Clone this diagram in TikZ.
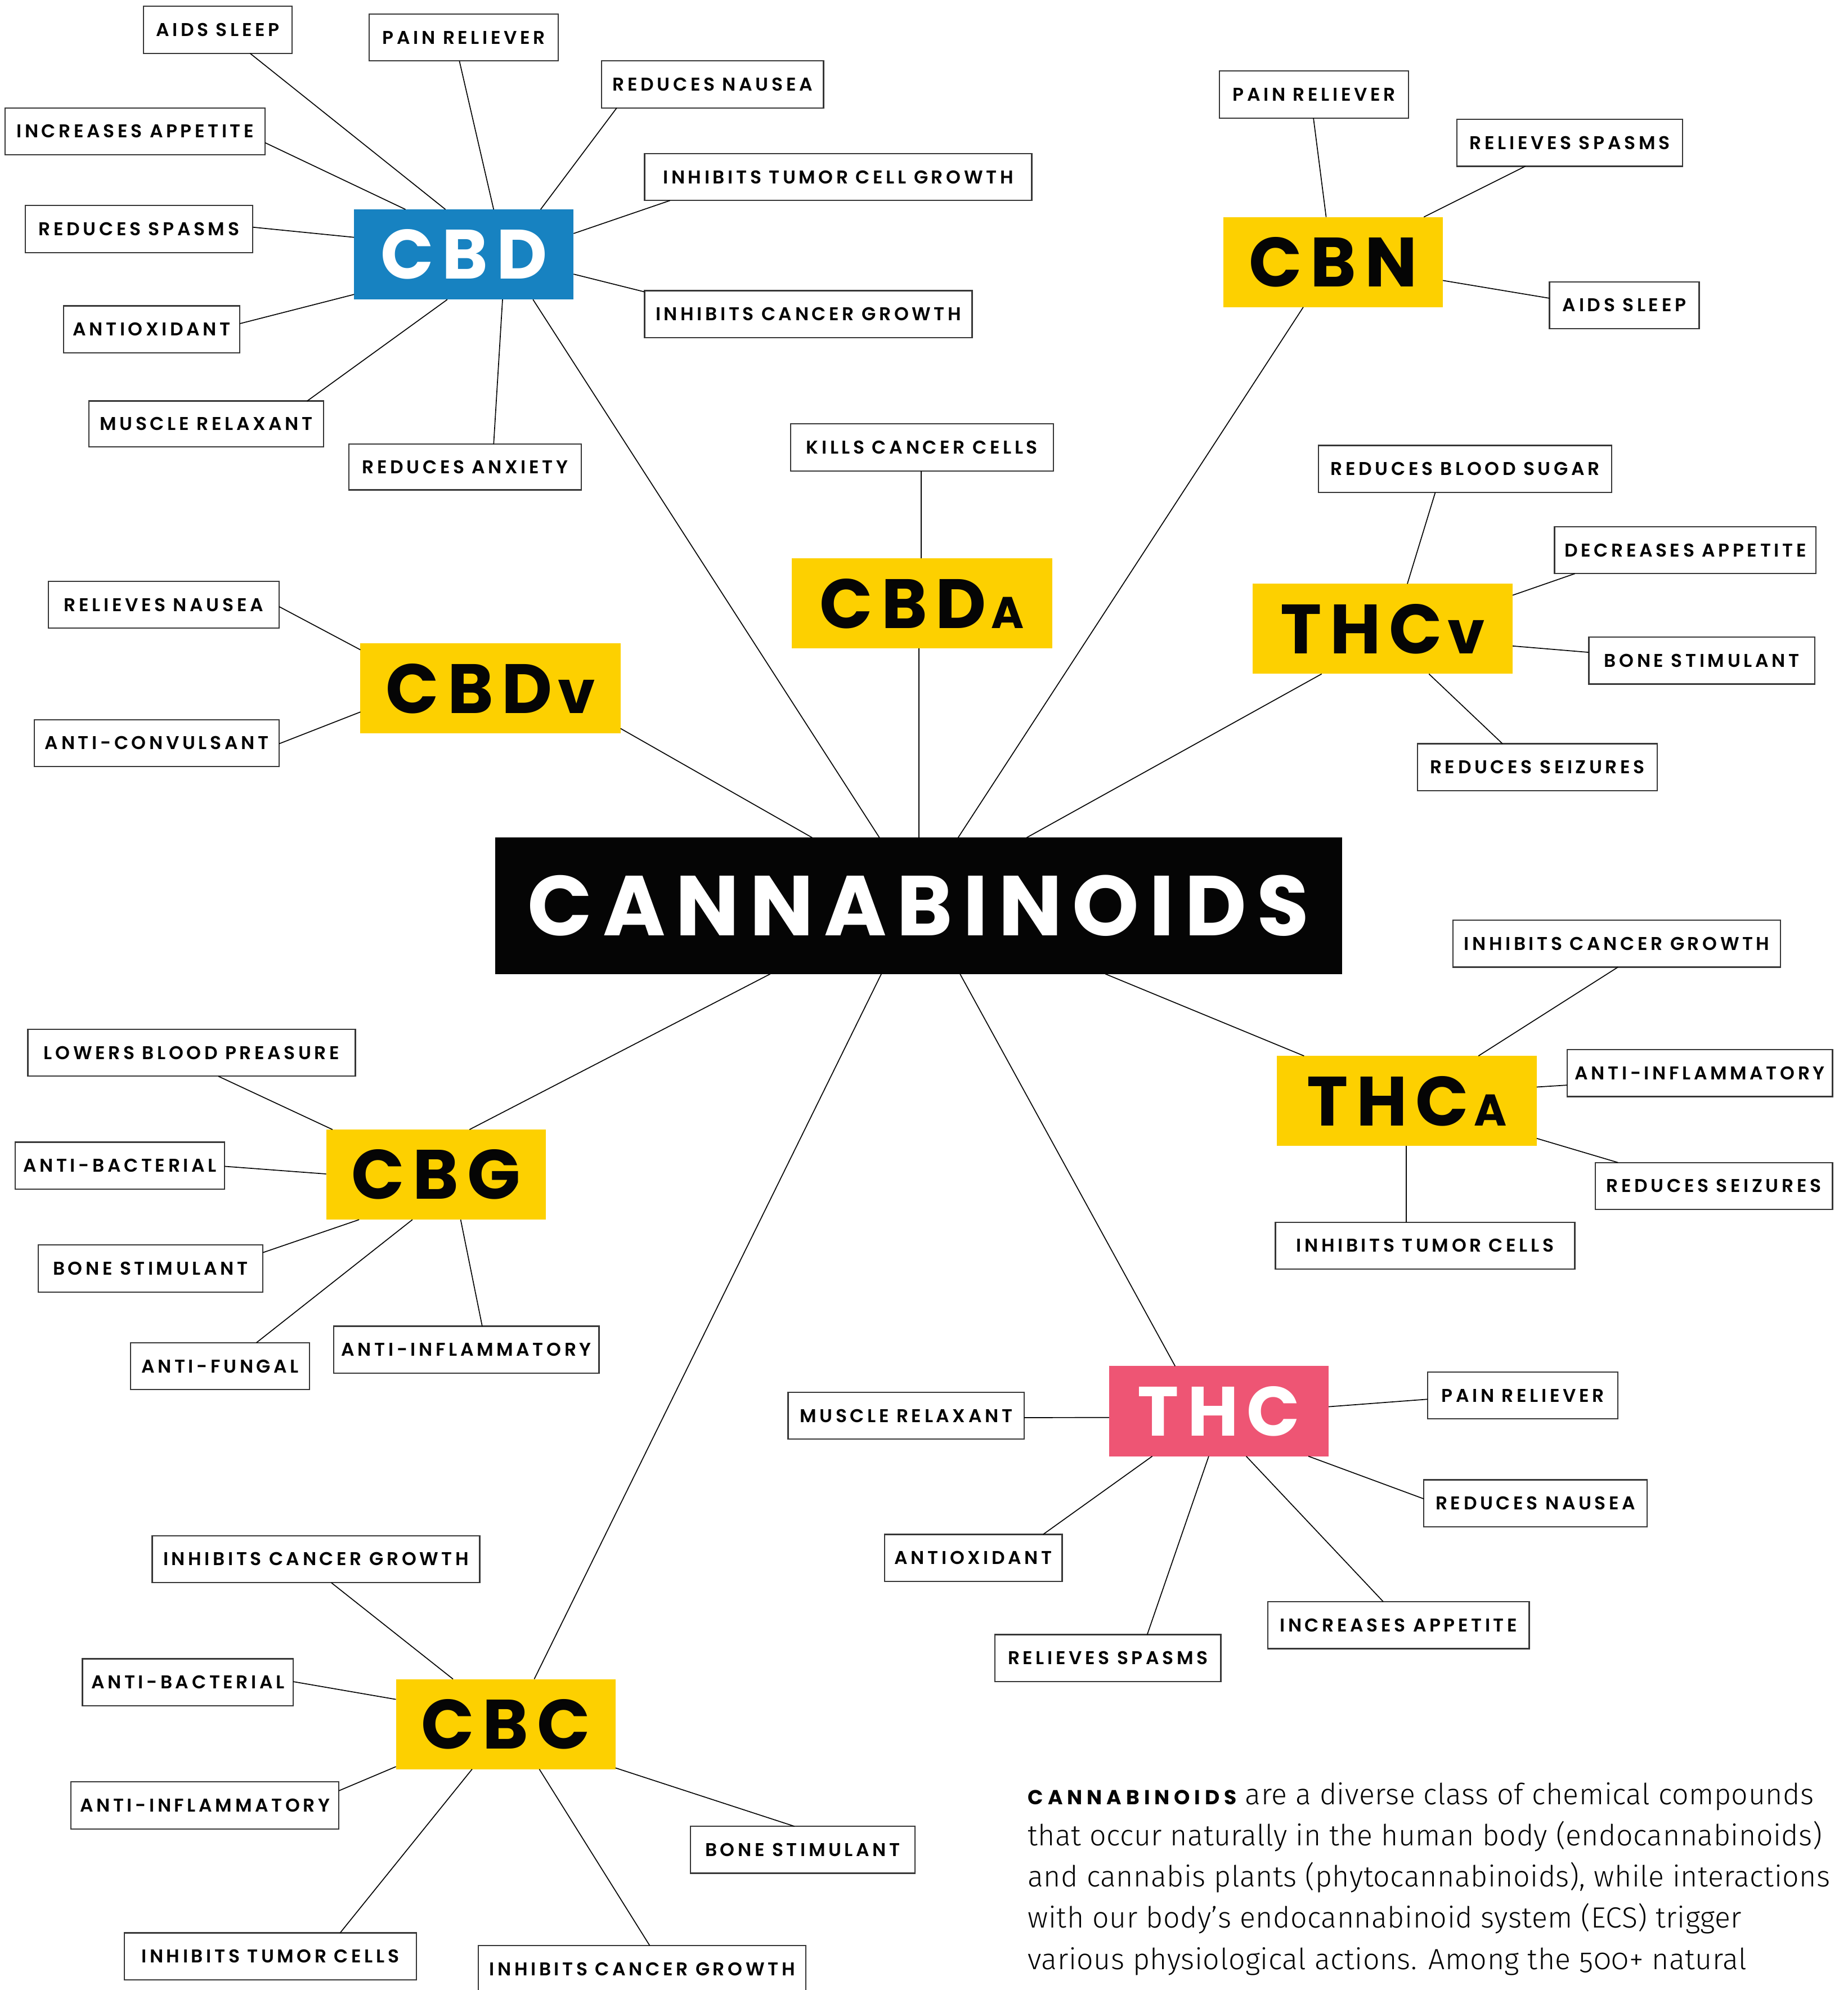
\documentclass[tikz,border=0pt]{standalone}
\usepackage{fontspec}
\usetikzlibrary{calc}
\newfontfamily\labfont{Poppins SemiBold}[LetterSpace=17]
\newfontfamily\ttlfont{Poppins Bold}[LetterSpace=12]
\newfontfamily\smbold{Poppins Bold}[LetterSpace=22]
\newfontfamily\bodyfont{Fira Sans Light}[Numbers=OldStyle, LetterSpace=1]
\definecolor{cyellow}{RGB}{253,208,0}
\definecolor{cblue}{RGB}{23,130,193}
\definecolor{cpink}{RGB}{238,85,116}
\definecolor{bordergray}{RGB}{55,55,55}
\definecolor{inkblack}{RGB}{5,5,5}

\newcommand\LB[6]{\node[lbl, minimum width={#4-#2}, minimum height={#5-#3}] (#1) at ({(#2+#4)/2},{(#3+#5)/2}) {#6};}
\newcommand\TB[8]{\node[ttl, fill=#6, text=#7, minimum width={#4-#2}, minimum height={#5-#3}] (#1) at ({(#2+#4)/2},{(#3+#5)/2}) {#8};}
\newcommand\CN[6]{\draw[conn] ($(#1.north west)+(#2,#3)$) -- ($(#4.north west)+(#5,#6)$);}
\newcommand\smA{\hspace{4pt}{\fontsize{35}{35}\selectfont A}}
\newcommand\smv{\hspace{4pt}{\fontsize{47}{47}\selectfont v}}

\begin{document}
\begin{tikzpicture}[x=1pt,y=-1pt,
  lbl/.style={draw=bordergray, line width=1pt, fill=white, inner sep=0pt, outer sep=0pt, text=inkblack,
    font=\labfont\fontsize{14.6}{16}\selectfont},
  ttl/.style={inner sep=0pt, outer sep=0pt, font=\ttlfont\fontsize{55}{55}\selectfont},
  conn/.style={line width=0.75pt, draw=inkblack},
  body/.style={inner sep=0pt, outer sep=0pt, anchor=base west, text=inkblack,
    font=\bodyfont\fontsize{23}{26}\selectfont}]
\path[use as bounding box] (0,0) rectangle (1456,1568);
\fill[white] (0,0) rectangle (1456,1568);
\clip (0,0) rectangle (1456,1568);

% ---------- title boxes ----------
\TB{cbd}{279}{165}{452}{236}{cblue}{white}{CBD}
\TB{cbn}{964}{171}{1137}{242}{cyellow}{inkblack}{CBN}
\TB{cbda}{624}{440}{829}{511}{cyellow}{inkblack}{CBD\smA}
\TB{thcv}{987}{460}{1192}{531}{cyellow}{inkblack}{THC\smv}
\TB{cbdv}{284}{507}{489}{578}{cyellow}{inkblack}{CBD\smv}
\node[ttl, fill=inkblack, text=white, minimum width=667.5, minimum height=107.4,
  font=\ttlfont\fontsize{67}{67}\selectfont] (cann) at (723.75,713.7) {CANNABINOIDS};
\TB{thca}{1006}{832}{1211}{903}{cyellow}{inkblack}{THC\smA}
\TB{cbg}{257}{890}{430}{961}{cyellow}{inkblack}{CBG}
\TB{thc}{874}{1076.4}{1047}{1147.4}{cpink}{white}{THC}
\TB{cbc}{312}{1323}{485}{1394}{cyellow}{inkblack}{CBC}

% ---------- CBD labels ----------
\LB{cbdsleep}{113}{5}{230}{42}{AIDS SLEEP}
\LB{cbdpain}{291}{11}{440}{48}{PAIN RELIEVER}
\LB{cbdnausea}{474}{48}{649}{85}{REDUCES NAUSEA}
\LB{cbdappetite}{4}{85}{209}{122}{INCREASES APPETITE}
\LB{cbdtumor}{508}{121}{813}{158}{INHIBITS TUMOR CELL GROWTH}
\LB{cbdspasms}{20}{162}{199}{199}{REDUCES SPASMS}
\LB{cbdcancer}{508}{229}{766}{266}{INHIBITS CANCER GROWTH}
\LB{cbdantiox}{50}{241}{189}{278}{ANTIOXIDANT}
\LB{cbdmuscle}{70}{316}{255}{352}{MUSCLE RELAXANT}
\LB{cbdanxiety}{275}{350}{458}{386}{REDUCES ANXIETY}
% ---------- CBN labels ----------
\LB{cbnpain}{961}{56}{1110}{93}{PAIN RELIEVER}
\LB{cbnspasms}{1148}{94}{1326}{131}{RELIEVES SPASMS}
\LB{cbnsleep}{1221}{222}{1339}{259}{AIDS SLEEP}
% ---------- CBDa ----------
\LB{kills}{623}{334}{830}{371}{KILLS CANCER CELLS}
% ---------- THCv ----------
\LB{rbs}{1039}{351}{1270}{388}{REDUCES BLOOD SUGAR}
\LB{decapp}{1225}{415}{1431}{452}{DECREASES APPETITE}
\LB{thcvbone}{1252}{502}{1430}{539}{BONE STIMULANT}
\LB{thcvseiz}{1117}{586}{1306}{623}{REDUCES SEIZURES}
% ---------- CBDv ----------
\LB{rnausea}{38}{458}{220}{495}{RELIEVES NAUSEA}
\LB{anticonv}{27}{567}{220}{604}{ANTI-CONVULSANT}
% ---------- THCa ----------
\LB{thcacancer}{1145}{725}{1403}{762}{INHIBITS CANCER GROWTH}
\LB{thcainfl}{1235}{827}{1444}{864}{ANTI-INFLAMMATORY}
\LB{thcaseiz}{1257}{916}{1444}{953}{REDUCES SEIZURES}
\LB{thcatumor}{1005}{963}{1241}{1000}{INHIBITS TUMOR CELLS}
% ---------- CBG ----------
\LB{lbp}{22}{811}{280}{848}{LOWERS BLOOD PREASURE}
\LB{cbgbac}{12}{900}{177}{937}{ANTI-BACTERIAL}
\LB{cbgbone}{30}{981}{207}{1018}{BONE STIMULANT}
\LB{fungal}{103}{1058}{244}{1095}{ANTI-FUNGAL}
\LB{cbginfl}{263}{1045}{472}{1082}{ANTI-INFLAMMATORY}
% ---------- THC ----------
\LB{thcmuscle}{621}{1097}{807}{1134}{MUSCLE RELAXANT}
\LB{thcpain}{1125}{1081}{1275}{1118}{PAIN RELIEVER}
\LB{thcnausea}{1122}{1166}{1298}{1203}{REDUCES NAUSEA}
\LB{thcantiox}{697}{1209}{837}{1246}{ANTIOXIDANT}
\LB{thcappetite}{999}{1262}{1205}{1299}{INCREASES APPETITE}
\LB{thcspasms}{784}{1288}{962}{1325}{RELIEVES SPASMS}
% ---------- CBC ----------
\LB{cbccancer}{120}{1210}{378}{1247}{INHIBITS CANCER GROWTH}
\LB{cbcbac}{65}{1307}{231}{1344}{ANTI-BACTERIAL}
\LB{cbcinfl}{56}{1404}{267}{1441}{ANTI-INFLAMMATORY}
\LB{cbcbone}{544}{1439}{721}{1476}{BONE STIMULANT}
\LB{cbctumor}{98}{1523}{328}{1560}{INHIBITS TUMOR CELLS}
\LB{cbccancer2}{377}{1533}{635}{1570}{INHIBITS CANCER GROWTH}

% ---------- connectors ----------
\CN{cbdsleep}{84}{37}{cbd}{72}{0}
\CN{cbdpain}{71}{37}{cbd}{110}{0}
\CN{cbdnausea}{12}{37}{cbd}{147}{0}
\CN{cbdappetite}{205}{27.5}{cbd}{40.5}{0}
\CN{cbdtumor}{20}{37}{cbd}{173}{19}
\CN{cbdspasms}{179}{17}{cbd}{0}{22}
\CN{cbdcancer}{0}{1}{cbd}{173}{51}
\CN{cbdantiox}{139}{14}{cbd}{0}{67}
\CN{cbdmuscle}{172}{0}{cbd}{73.5}{71}
\CN{cbdanxiety}{114}{0}{cbd}{117}{71}
\CN{cbd}{141}{71}{cann}{303}{0}

\CN{cbnpain}{74}{37}{cbn}{81}{0}
\CN{cbnspasms}{54}{37}{cbn}{158}{0}
\CN{cbnsleep}{0}{13}{cbn}{173}{50}
\CN{cbn}{63}{71}{cann}{365}{0}

\CN{kills}{103}{37}{cbda}{102}{0}
\CN{cbda}{100}{71}{cann}{334}{0}

\CN{rbs}{92}{37}{thcv}{122}{0}
\CN{decapp}{16}{37}{thcv}{205}{9}
\CN{thcvbone}{0}{12}{thcv}{205}{49}
\CN{thcvseiz}{67}{0}{thcv}{139}{71}
\CN{thcv}{54.5}{71}{cann}{419}{0}

\CN{rnausea}{182}{20}{cbdv}{0}{5}
\CN{anticonv}{193}{19}{cbdv}{0}{54}
\CN{cbdv}{205}{67}{cann}{250}{0}

\CN{cann}{481}{107.4}{thca}{21.6}{0}
\CN{cann}{217}{107.4}{cbg}{113}{0}
\CN{cann}{366.5}{107.4}{thc}{52}{0}
\CN{cann}{304.5}{107.4}{cbc}{109}{0}

\CN{thcacancer}{130}{37}{thca}{159}{0}
\CN{thcainfl}{0}{28}{thca}{205}{24.5}
\CN{thcaseiz}{18}{0}{thca}{205}{65}
\CN{thcatumor}{103}{0}{thca}{102}{71}

\CN{lbp}{150}{37}{cbg}{5}{0}
\CN{cbgbac}{165}{19}{cbg}{0}{35}
\CN{cbgbone}{177}{6}{cbg}{26}{71}
\CN{fungal}{99}{0}{cbg}{68}{71}
\CN{cbginfl}{117}{0}{cbg}{106}{71}

\CN{thcmuscle}{186}{20}{thc}{0}{40.5}
\CN{thcpain}{0}{21.5}{thc}{173}{32}
\CN{thcnausea}{0}{15}{thc}{157}{71}
\CN{thcantiox}{125}{0}{thc}{34}{71}
\CN{thcappetite}{91}{0}{thc}{108}{71}
\CN{thcspasms}{120}{0}{thc}{78.5}{71}

\CN{cbccancer}{141}{37}{cbc}{45}{0}
\CN{cbcbac}{166}{18}{cbc}{0}{16}
\CN{cbcinfl}{211}{7}{cbc}{0}{69}
\CN{cbcbone}{82}{0}{cbc}{173}{70}
\CN{cbctumor}{170}{0}{cbc}{60}{71}
\CN{cbccancer2}{135}{0}{cbc}{113}{71}

% ---------- body text ----------
\node[body] (body1) at (810,1422) {{\smbold\fontsize{16}{15}\selectfont CANNABINOIDS} are a diverse class of chemical compounds};
\node[body] (body2) at (810,1454.4) {that occur naturally in the human body (endocannabinoids)};
\node[body] (body3) at (810,1486.8) {and cannabis plants (phytocannabinoids), while interactions};
\node[body] (body4) at (810,1519.2) {with our body’s endocannabinoid system (ECS) trigger};
\node[body] (body5) at (810,1551.6) {various physiological actions. Among the 500+ natural};
\end{tikzpicture}
\end{document}
